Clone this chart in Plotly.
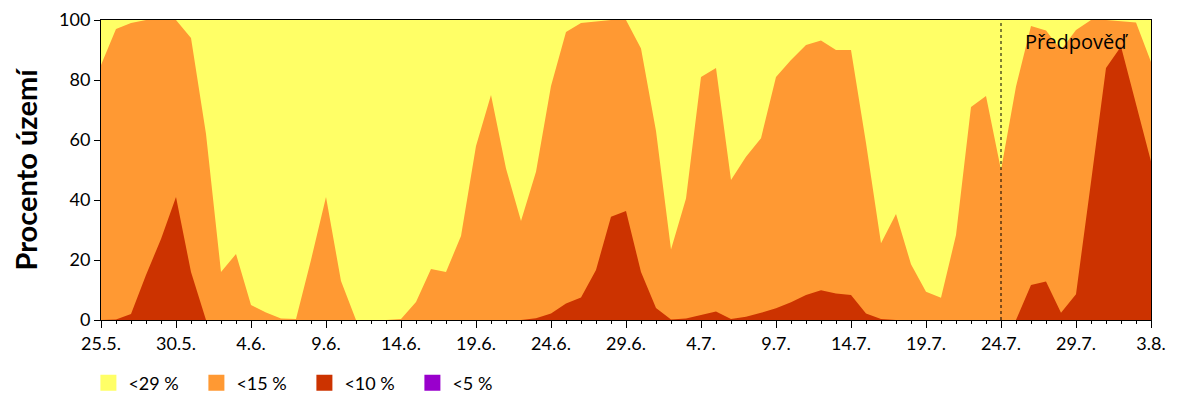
import plotly.graph_objects as go
import pandas as pd

dates = pd.date_range("2023-05-25", "2023-08-03", freq="D").strftime("%Y-%m-%d").tolist()

lt29 = [100] * 71
lt15 = [85, 97, 99, 100, 100, 100, 94, 62, 16, 22, 5, 2.5, 0.5,
        0.3, 20, 41, 13, 0, 0, 0, 0.3, 6, 17, 16, 28,
        58, 75, 50.5, 33, 49.4, 78, 96, 99, 99.5, 100, 100, 90.5,
        63, 23.5, 40.5, 81, 84, 46.7, 54.4, 60.6, 81, 86.7, 91.7, 93.2,
        90, 90, 59, 25.6, 35.3, 18.6, 9.4, 7.4, 28.3, 71, 74.7, 50,
        77.8, 98, 96.5, 90, 96.7, 100, 100, 99.7, 99.2, 86]
lt10 = [0, 0.2, 2, 15, 27, 41, 16, 0, 0, 0, 0, 0, 0,
        0, 0, 0, 0, 0, 0, 0, 0, 0, 0, 0, 0,
        0, 0, 0, 0, 0.6, 2.2, 5.5, 7.5, 16.7, 34.4, 36.3, 16,
        4, 0.2, 0.5, 1.7, 2.8, 0.3, 1.1, 2.4, 3.9, 5.9, 8.3, 9.9,
        8.8, 8.3, 2.2, 0.3, 0, 0, 0, 0, 0, 0, 0, 0,
        0, 11.7, 12.8, 2.4, 8.6, 46, 84, 91.2, 72, 52.8]
lt5 = [0] * 71

series = [("<29 %", lt29, "#FFFF66"), ("<15 %", lt15, "#FF9933"),
          ("<10 %", lt10, "#CC3300"), ("<5 %", lt5, "#9900CC")]

tick_dates = dates[::5]
tick_labels = ["25.5.", "30.5.", "4.6.", "9.6.", "14.6.", "19.6.", "24.6.", "29.6.",
               "4.7.", "9.7.", "14.7.", "19.7.", "24.7.", "29.7.", "3.8."]
forecast_start = "2023-07-24"

fig = go.Figure()
for name, vals, col in series:
    fig.add_trace(go.Scatter(x=dates, y=vals, mode="lines", line=dict(width=0, color=col),
                             fill="tozeroy", fillcolor=col, showlegend=False, hoverinfo="skip"))
for name, vals, col in series:
    fig.add_trace(go.Scatter(x=[None], y=[None], mode="markers", name=name,
                             marker=dict(symbol="square", size=20, color=col, line=dict(width=0))))

fig.add_shape(type="line", x0=forecast_start, x1=forecast_start, y0=0, y1=100,
              xref="x", yref="y", line=dict(color="black", width=1, dash="3px,3px"))
fig.add_annotation(x="2023-07-29", y=93, xref="x", yref="y", text="Předpověď", showarrow=False,
                   font=dict(family="Open Sans", size=20, color="black"))

fig.update_layout(
    width=1200, height=400,
    margin=dict(l=101, r=49, t=20, b=80, autoexpand=False),
    paper_bgcolor="white", plot_bgcolor="white",
    font=dict(family="Lato", size=18, color="black"),
    legend=dict(orientation="h", x=-0.012, xanchor="left", y=-0.21, yanchor="middle",
                font=dict(family="Lato", size=18), itemwidth=30, entrywidth=63,
                tracegroupgap=0),
)
fig.update_xaxes(type="date", range=[dates[0], dates[-1]], tickmode="array",
                 tickvals=tick_dates, ticktext=tick_labels, ticks="outside", ticklen=7,
                 tickcolor="black", showline=True, linecolor="black", linewidth=1, mirror=True,
                 showgrid=False, zeroline=False,
                 minor=dict(ticks="outside", ticklen=3, tickcolor="black",
                            tick0=dates[0], dtick=86400000, showgrid=False))
fig.update_yaxes(range=[0, 100], tickvals=[0, 20, 40, 60, 80, 100], ticks="outside", ticklen=6,
                 tickcolor="black", showline=True, linecolor="black", linewidth=1, mirror=True,
                 showgrid=False, zeroline=False,
                 title=dict(text="<b>Procento území</b>", font=dict(family="Lato", size=29), standoff=12))

fig.write_html("out.html")
